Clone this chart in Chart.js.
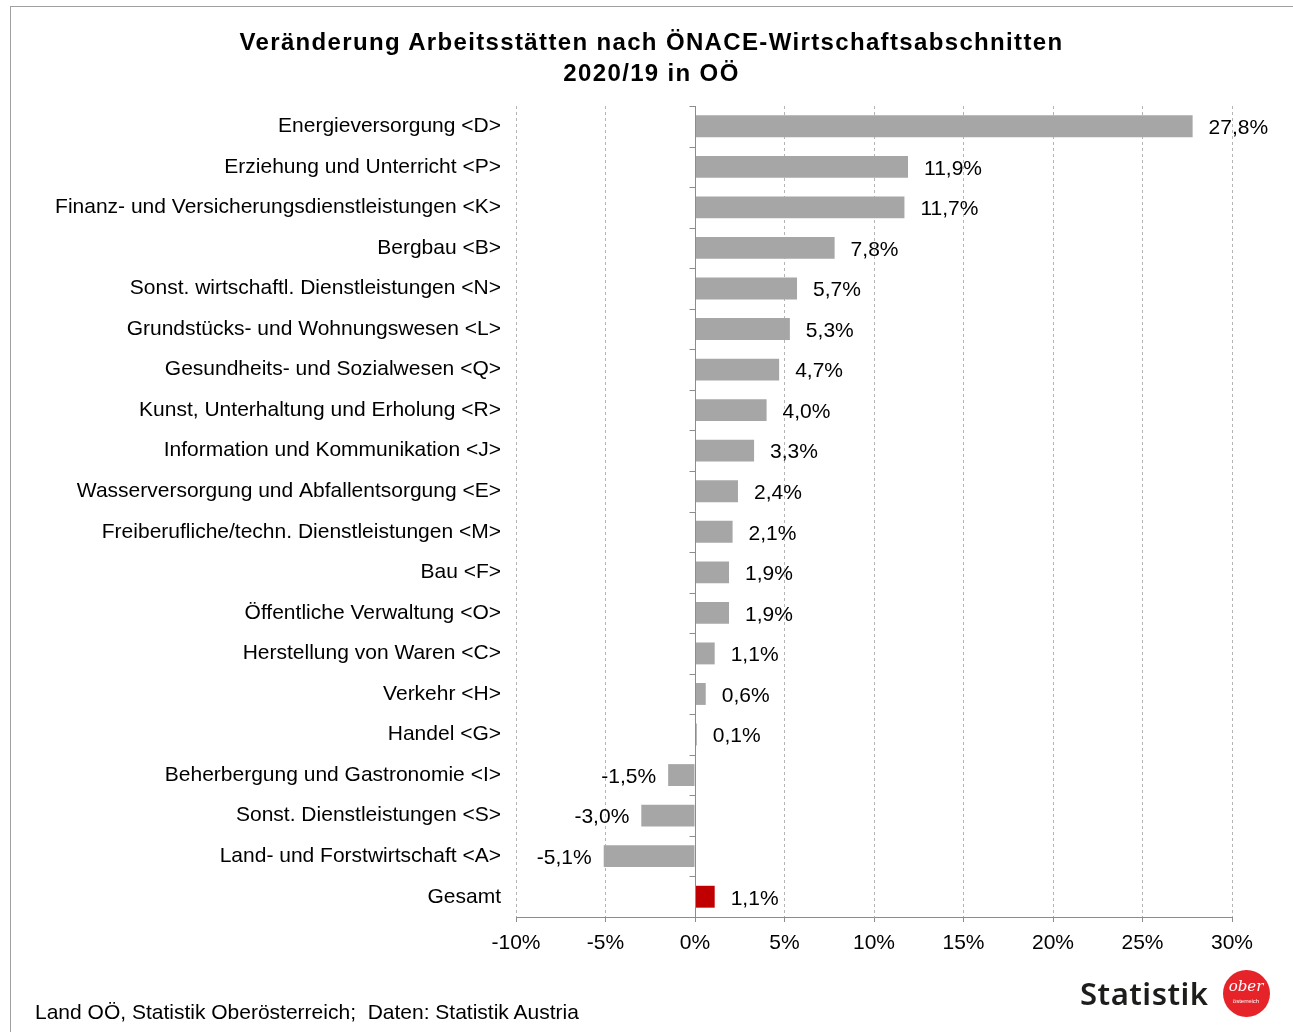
<!DOCTYPE html>
<html>
<head>
<meta charset="utf-8">
<script src="https://cdn.jsdelivr.net/npm/chart.js@4.4.1/dist/chart.umd.min.js"></script>
<style>
  html, body { margin: 0; padding: 0; background: #fff; }
  body { width: 1293px; height: 1032px; position: relative; overflow: hidden; font-family: "Liberation Sans", Arial, sans-serif; }
  #frame { position: absolute; left: 10px; top: 6px; width: 1290px; height: 1040px; border-left: 1px solid #a0a0a0; border-top: 1px solid #a0a0a0; }
  #wrap { position: absolute; left: 0; top: 0; width: 1293px; height: 1032px; }
  #title { position: absolute; left: 10px; width: 1283px; top: 26px; text-align: center; font-weight: bold; font-size: 24px; line-height: 31px; letter-spacing: 1.35px; color: #000; }
  #source { position: absolute; left: 35px; top: 1000px; font-size: 21px; color: #000; }
  #logo { position: absolute; left: 1080px; top: 970px; height: 46px; display: flex; align-items: center; }
  #logo .word { font-family: "Noto Sans", "Open Sans", sans-serif; font-size: 31px; font-weight: 600; color: #1d1d1b; letter-spacing: 0.5px; }
  #logo .circle { margin-left: 14px; width: 47px; height: 47px; border-radius: 50%; background: #e52329; color: #fff; position: relative; }
  #logo .ober { position: absolute; left: 0; width: 47px; top: 7px; text-align: center; font-family: "DejaVu Serif", serif; font-style: italic; font-size: 15px; }
  #logo .oe { position: absolute; left: 0; width: 47px; top: 28px; text-align: center; font-size: 6px; }
</style>
</head>
<body>
<div id="frame"></div>
<div id="wrap"><canvas id="chart" width="1293" height="1032"></canvas></div>
<div id="title">Veränderung Arbeitsstätten nach ÖNACE-Wirtschaftsabschnitten<br>2020/19 in OÖ</div>
<div id="source">Land OÖ, Statistik Oberösterreich;&nbsp; Daten: Statistik Austria</div>
<div id="logo"><span class="word">Statistik</span><div class="circle"><div class="ober">ober</div><div class="oe">österreich</div></div></div>
<script>
// categories and values (change 2020/19 in %)
const sections = [
  'Energieversorgung <D>',
  'Erziehung und Unterricht <P>',
  'Finanz- und Versicherungsdienstleistungen <K>',
  'Bergbau <B>',
  'Sonst. wirtschaftl. Dienstleistungen <N>',
  'Grundstücks- und Wohnungswesen <L>',
  'Gesundheits- und Sozialwesen <Q>',
  'Kunst, Unterhaltung und Erholung <R>',
  'Information und Kommunikation <J>',
  'Wasserversorgung und Abfallentsorgung <E>',
  'Freiberufliche/techn. Dienstleistungen <M>',
  'Bau <F>',
  'Öffentliche Verwaltung <O>',
  'Herstellung von Waren <C>',
  'Verkehr <H>',
  'Handel <G>',
  'Beherbergung und Gastronomie <I>',
  'Sonst. Dienstleistungen <S>',
  'Land- und Forstwirtschaft <A>',
  'Gesamt'
];
const changes = [27.8, 11.9, 11.7, 7.8, 5.7, 5.3, 4.7, 4.0, 3.3, 2.4, 2.1, 1.9, 1.9, 1.1, 0.6, 0.1, -1.5, -3.0, -5.1, 1.1];
const xTicks = [-10, -5, 0, 5, 10, 15, 20, 25, 30];

const fmt = v => v.toFixed(1).replace('.', ',') + '%';
const barColors = sections.map(s => s === 'Gesamt' ? '#c00000' : '#a6a6a6');
const fontFamily = '"Liberation Sans", Arial, sans-serif';

// zero line with small ticks + value labels
const extras = {
  id: 'extras',
  afterDatasetsDraw(chart) {
    const ctx = chart.ctx;
    const x = chart.scales.x, y = chart.scales.y;
    const x0 = Math.round(x.getPixelForValue(0)) + 0.5;
    ctx.save();
    ctx.strokeStyle = '#8c8c8c';
    ctx.lineWidth = 1;
    ctx.beginPath();
    ctx.moveTo(x0, y.top);
    ctx.lineTo(x0, y.bottom);
    for (let i = 0; i <= sections.length; i++) {
      const py = Math.round(y.getPixelForValue(i - 0.5)) + 0.5;
      ctx.moveTo(x0 - 6, py);
      ctx.lineTo(x0, py);
    }
    ctx.stroke();

    ctx.fillStyle = '#000';
    ctx.font = '21px ' + fontFamily;
    ctx.textBaseline = 'middle';
    const meta = chart.getDatasetMeta(0);
    meta.data.forEach((bar, i) => {
      const v = changes[i];
      if (v >= 0) {
        ctx.textAlign = 'left';
        ctx.fillText(fmt(v), bar.x + 16, bar.y + 2);
      } else {
        ctx.textAlign = 'right';
        ctx.fillText(fmt(v), bar.x - 12, bar.y + 2);
      }
    });
    ctx.restore();
  }
};

new Chart(document.getElementById('chart'), {
  type: 'bar',
  data: {
    labels: sections,
    datasets: [{
      data: changes,
      backgroundColor: barColors,
      borderWidth: 0,
      barPercentage: 0.6,
      categoryPercentage: 0.9
    }]
  },
  options: {
    indexAxis: 'y',
    responsive: false,
    animation: false,
    layout: { padding: { left: 0, right: 61, top: 106, bottom: 0 } },
    plugins: { legend: { display: false }, tooltip: { enabled: false }, title: { display: false } },
    scales: {
      x: {
        min: -10,
        max: 30,
        afterBuildTicks: scale => { scale.ticks = xTicks.map(v => ({ value: v })); },
        afterFit: scale => { scale.height = 115; },
        ticks: {
          color: '#000',
          font: { family: fontFamily, size: 21 },
          padding: 9,
          maxRotation: 0,
          callback: v => v + '%'
        },
        grid: {
          color: ctx => ctx.tick && ctx.tick.value === 0 ? 'rgba(0,0,0,0)' : '#b4b4b4',
          tickColor: '#8c8c8c',
          tickLength: 5,
          drawTicks: true
        },
        border: { display: true, color: '#8c8c8c', dash: [3, 3] }
      },
      y: {
        afterFit: scale => { scale.width = 516; },
        ticks: {
          color: '#000',
          font: { family: fontFamily, size: 21 },
          padding: 15,
          autoSkip: false
        },
        grid: { display: false, drawTicks: false },
        border: { display: false }
      }
    }
  },
  plugins: [extras]
});
</script>
</body>
</html>
